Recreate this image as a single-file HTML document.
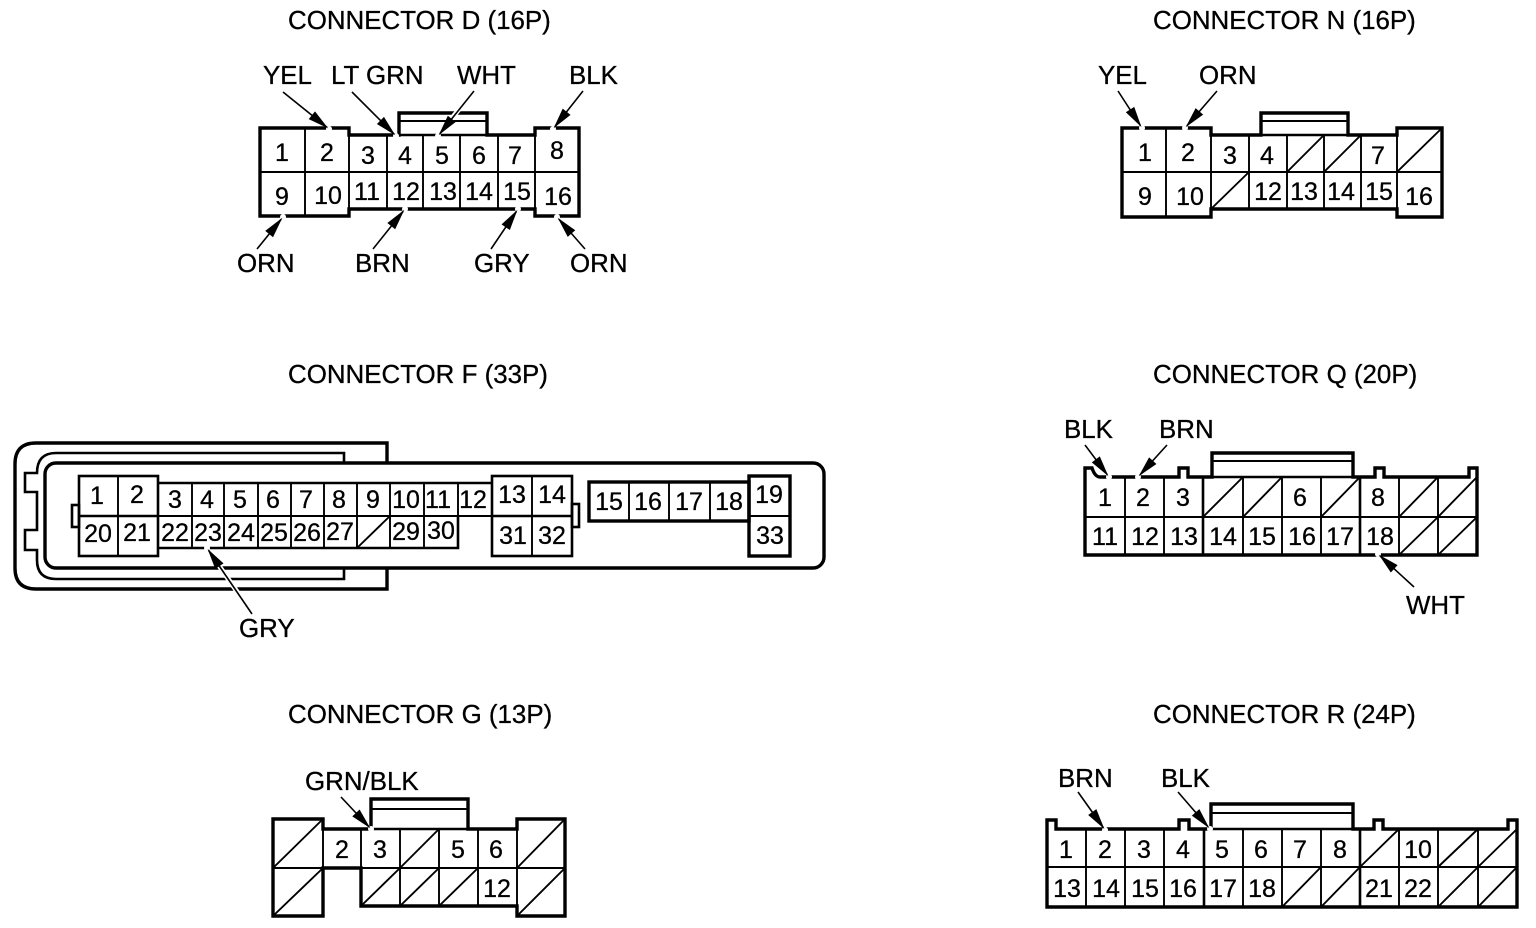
<!DOCTYPE html>
<html><head><meta charset="utf-8"><title>Connectors</title>
<style>
html,body{margin:0;padding:0;background:#fff;width:1536px;height:928px;overflow:hidden}
svg{display:block}
text{font-family:"Liberation Sans",Arial,sans-serif;fill:#000;stroke:#000;stroke-width:.3}
.l{font-size:25.9px}
.n{font-size:25px;text-anchor:middle}
.o{fill:none;stroke:#000;stroke-width:3.4;stroke-linejoin:miter}
.t{fill:none;stroke:#000;stroke-width:1.9}
.m{fill:none;stroke:#000;stroke-width:2.6}
.a{stroke:#000;stroke-width:1.6;marker-end:url(#h)}
</style></head><body>
<svg width="1536" height="928" viewBox="0 0 1536 928" xmlns="http://www.w3.org/2000/svg">
<defs><marker id="h" markerUnits="userSpaceOnUse" markerWidth="34" markerHeight="24" refX="26" refY="12" orient="auto"><circle cx="26" cy="12" r="3" fill="#fff"/><polygon points="4,7 25,12 4,17" fill="#000"/></marker></defs>

<!-- Titles -->
<g class="l">
<text x="288" y="29">CONNECTOR D (16P)</text>
<text x="1153" y="29">CONNECTOR N (16P)</text>
<text x="288" y="383">CONNECTOR F (33P)</text>
<text x="1153" y="383">CONNECTOR Q (20P)</text>
<text x="288" y="723">CONNECTOR G (13P)</text>
<text x="1153" y="723">CONNECTOR R (24P)</text>
<!-- Wire labels -->
<text x="263" y="84">YEL</text><text x="331" y="84">LT GRN</text><text x="457" y="84">WHT</text><text x="569" y="84">BLK</text>
<text x="237" y="272">ORN</text><text x="355" y="272">BRN</text><text x="474" y="272">GRY</text><text x="570" y="272">ORN</text>
<text x="1098" y="84">YEL</text><text x="1199" y="84">ORN</text>
<text x="239" y="637">GRY</text>
<text x="1064" y="438">BLK</text><text x="1159" y="438">BRN</text><text x="1406" y="614">WHT</text>
<text x="305" y="790">GRN/BLK</text>
<text x="1058" y="787">BRN</text><text x="1161" y="787">BLK</text>
</g>

<!-- Connector D -->
<path class="o" d="M260,216V128H349V135H399V113H487V135H535V128H579V216H535V209H349V216Z"/>
<path class="t" d="M399,121H487M260,172H579M305,128V216M349,135V209M387,135V209M423,135V209M460,135V209M498,135V209M535,135V209"/>
<path class="m" d="M399,135H487"/>
<g class="n">
<text x="282" y="161">1</text><text x="327" y="161">2</text><text x="368" y="164">3</text><text x="405" y="164">4</text><text x="442" y="164">5</text><text x="479" y="164">6</text><text x="515" y="164">7</text><text x="557" y="159">8</text>
<text x="282" y="205">9</text><text x="328" y="204">10</text><text x="367" y="200">11</text><text x="406" y="200">12</text><text x="443" y="200">13</text><text x="479" y="200">14</text><text x="517" y="200">15</text><text x="558" y="205">16</text>
</g>

<!-- Connector N -->
<path class="o" d="M1122,217V128H1211V135H1261V113H1348V135H1397V128H1442V217H1397V209H1211V217Z"/>
<path class="t" d="M1261,121H1348M1122,172H1442M1166,128V217M1211,135V209M1249,135V209M1287,135V209M1324,135V209M1361,135V209M1397,135V209"/>
<path class="m" d="M1261,135H1348"/>
<path class="t" d="M1287,172L1324,135M1324,172L1361,135M1397,172L1442,128M1211,209L1249,172"/>
<g class="n">
<text x="1145" y="161">1</text><text x="1188" y="161">2</text><text x="1230" y="164">3</text><text x="1267" y="164">4</text><text x="1378" y="164">7</text>
<text x="1145" y="205">9</text><text x="1190" y="205">10</text><text x="1268" y="200">12</text><text x="1304" y="200">13</text><text x="1341" y="200">14</text><text x="1379" y="200">15</text><text x="1419" y="205">16</text>
</g>

<!-- Connector F shells -->
<path class="o" d="M387,463V443H36Q15,443 15,464V568Q15,589 36,589H387V568"/>
<path class="m" d="M344,463V453H56Q37,453 37,473H25V492H37V530H25V550H37V560Q37,579 56,579H344V568"/>
<rect class="o" x="45" y="463" width="779" height="105" rx="11" ry="11"/>
<!-- Connector F cells -->
<rect class="m" x="72" y="505" width="7" height="22"/>
<rect class="m" x="572" y="504" width="7" height="23"/>
<rect x="79" y="476" width="79" height="80" fill="#fff" class="m"/>
<rect x="492" y="476" width="80" height="80" fill="#fff" class="m"/>
<path class="m" d="M158,483H492M158,548H458V516M79,516H158M492,516H572"/>
<path class="t" d="M118,476V556M532,476V556M158,516H492M192,483V548M224,483V548M258,483V548M291,483V548M324,483V548M357,483V548M390,483V548M424,483V548M458,483V516M357,548L390,516"/>
<rect class="o" x="589" y="482" width="160" height="39"/>
<path class="t" d="M629,482V521M669,482V521M710,482V521"/>
<rect class="o" x="749" y="476" width="41" height="80" fill="#fff"/>
<path class="t" d="M749,516H790"/>
<g class="n">
<text x="97" y="504">1</text><text x="137" y="503">2</text><text x="175" y="508">3</text><text x="207" y="508">4</text><text x="240" y="508">5</text><text x="273" y="508">6</text><text x="306" y="508">7</text><text x="339" y="508">8</text><text x="373" y="508">9</text><text x="406" y="508">10</text><text x="438" y="508">11</text><text x="473" y="508">12</text><text x="512" y="503">13</text><text x="552" y="503">14</text>
<text x="609" y="510">15</text><text x="648" y="510">16</text><text x="689" y="510">17</text><text x="729" y="510">18</text><text x="769" y="503">19</text>
<text x="98" y="542">20</text><text x="137" y="541">21</text><text x="175" y="541">22</text><text x="208" y="541">23</text><text x="241" y="541">24</text><text x="274" y="541">25</text><text x="307" y="541">26</text><text x="340" y="540">27</text><text x="406" y="540">29</text><text x="441" y="539">30</text><text x="513" y="544">31</text><text x="552" y="544">32</text><text x="770" y="544">33</text>
</g>

<!-- Connector Q -->
<path class="o" d="M1085,555V468H1092Q1095,477 1100,477H1179V468H1188V477H1212V453H1353V477H1375V468H1384V477H1469V468H1477V555Z"/>
<path class="t" d="M1212,461H1353M1085,517H1477M1125,477V555M1164,477V555M1243,477V555M1282,477V555M1321,477V555M1399,477V555M1438,477V555"/>
<path class="m" d="M1203,477V555M1360,477V555M1212,477H1353"/>
<path class="t" d="M1203,517L1243,477M1243,517L1282,477M1321,517L1360,477M1399,517L1438,477M1438,517L1477,477M1399,555L1438,517M1438,555L1477,517"/>
<g class="n">
<text x="1105" y="506">1</text><text x="1143" y="506">2</text><text x="1183" y="506">3</text><text x="1300" y="506">6</text><text x="1378" y="506">8</text>
<text x="1105" y="545">11</text><text x="1145" y="545">12</text><text x="1184" y="545">13</text><text x="1223" y="545">14</text><text x="1262" y="545">15</text><text x="1302" y="545">16</text><text x="1340" y="545">17</text><text x="1380" y="545">18</text>
</g>

<!-- Connector G -->
<path class="o" d="M273,916V819H323V829H371V799H468V829H517V819H565V916H517V906H361V868H323V916Z"/>
<path class="t" d="M371,809H468M273,868H565M323,829V916M361,829V906M400,829V906M439,829V906M478,829V906M517,819V916"/>
<path class="m" d="M371,829H468"/>
<path class="t" d="M273,868L323,819M273,916L323,868M400,868L439,829M361,906L400,868M400,906L439,868M439,906L478,868M517,868L565,819M517,916L565,868"/>
<g class="n">
<text x="342" y="858">2</text><text x="380" y="858">3</text><text x="458" y="858">5</text><text x="496" y="858">6</text><text x="497" y="897">12</text>
</g>

<!-- Connector R -->
<path class="o" d="M1047,907V820H1056V829H1179V820H1189V829H1211V804H1353V829H1374V820H1383V829H1508V820H1517V907Z"/>
<path class="t" d="M1211,813H1353M1047,867H1517M1086,829V907M1125,829V907M1164,829V907M1243,829V907M1282,829V907M1321,829V907M1399,829V907M1438,829V907M1478,829V907"/>
<path class="m" d="M1204,829V907M1360,829V907M1211,829H1353"/>
<path class="t" d="M1360,867L1399,829M1438,867L1478,829M1478,867L1517,829M1282,907L1321,867M1321,907L1360,867M1438,907L1478,867M1478,907L1517,867"/>
<g class="n">
<text x="1066" y="858">1</text><text x="1105" y="858">2</text><text x="1144" y="858">3</text><text x="1183" y="858">4</text><text x="1222" y="858">5</text><text x="1261" y="858">6</text><text x="1300" y="858">7</text><text x="1340" y="858">8</text><text x="1418" y="858">10</text>
<text x="1067" y="897">13</text><text x="1106" y="897">14</text><text x="1145" y="897">15</text><text x="1183" y="897">16</text><text x="1223" y="897">17</text><text x="1262" y="897">18</text><text x="1379" y="897">21</text><text x="1418" y="897">22</text>
</g>

<!-- Halos where arrows cross outlines -->
<path d="M460,108L444,128M215,560L238,593" fill="none" stroke="#fff" stroke-width="5"/>

<!-- Arrows -->
<line class="a" x1="283" y1="92" x2="329" y2="129"/>
<line class="a" x1="352" y1="92" x2="396" y2="136"/>
<line class="a" x1="474" y1="91" x2="438" y2="136"/>
<line class="a" x1="583" y1="91" x2="553" y2="129"/>
<line class="a" x1="257" y1="249" x2="283" y2="217"/>
<line class="a" x1="373" y1="249" x2="405" y2="209"/>
<line class="a" x1="491" y1="249" x2="518" y2="209"/>
<line class="a" x1="585" y1="249" x2="557" y2="217"/>
<line class="a" x1="1118" y1="91" x2="1142" y2="128"/>
<line class="a" x1="1217" y1="91" x2="1185" y2="128"/>
<line class="a" x1="252" y1="614" x2="207" y2="548"/>
<line class="a" x1="1085" y1="445" x2="1109" y2="477"/>
<line class="a" x1="1167" y1="445" x2="1138" y2="477"/>
<line class="a" x1="1414" y1="587" x2="1378" y2="554"/>
<line class="a" x1="341" y1="797" x2="371" y2="829"/>
<line class="a" x1="1078" y1="792" x2="1105" y2="830"/>
<line class="a" x1="1178" y1="792" x2="1210" y2="829"/>
</svg>
</body></html>
